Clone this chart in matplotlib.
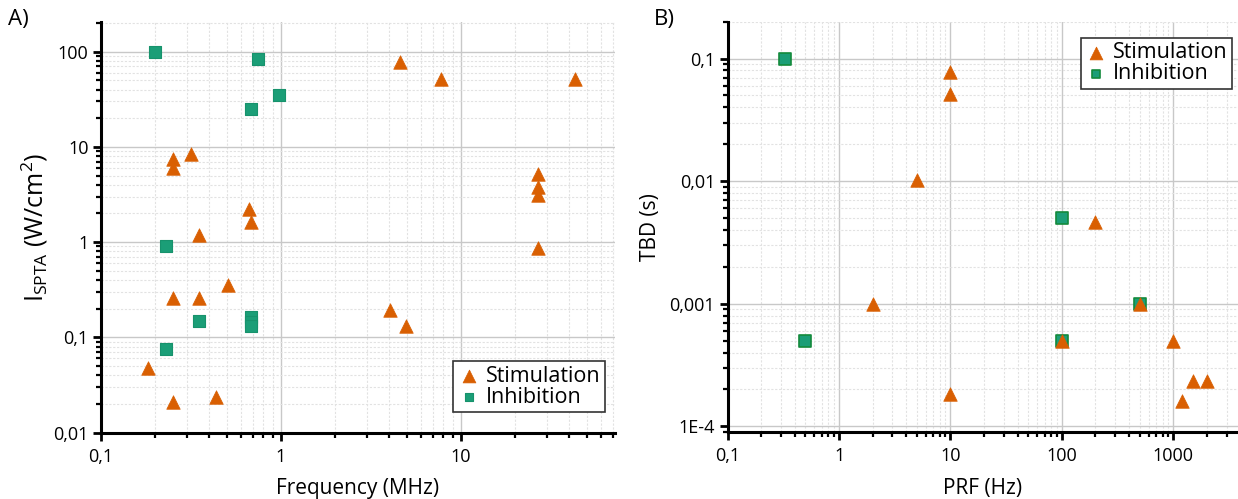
import matplotlib
matplotlib.use("Agg")
import matplotlib.pyplot as plt
from matplotlib.ticker import FixedLocator, FixedFormatter, LogLocator, NullFormatter

plt.rcParams.update({"font.family": ["Open Sans", "DejaVu Sans"], "font.size": 11})

STIM = "#d95f02"
INHIB = "#1b9e77"

# ---- panel A: frequency vs I_SPTA ----
a_stim_freq = [4.6, 7.8, 43, 0.25, 0.25, 0.318, 0.665, 0.686, 0.35, 0.508, 0.25, 0.35,
               4.03, 4.99, 0.182, 0.25, 0.438, 27, 27, 27, 27]
a_stim_ispta = [78, 52, 52, 7.5, 6.0, 8.4, 2.2, 1.63, 1.2, 0.35, 0.257, 0.257,
                0.194, 0.132, 0.048, 0.021, 0.0234, 5.2, 3.77, 3.16, 0.87]
a_inhib_freq = [0.2, 0.75, 0.98, 0.686, 0.231, 0.35, 0.686, 0.686, 0.686, 0.231]
a_inhib_ispta = [100, 83, 35, 25, 0.91, 0.148, 0.163, 0.145, 0.13, 0.076]

# ---- panel B: PRF vs TBD ----
b_stim_prf = [10, 10, 5, 2, 10, 100, 200, 500, 1000, 1200, 1500, 2000]
b_stim_tbd = [0.077, 0.051, 0.0103, 0.001, 1.83e-4, 5e-4, 0.0046, 0.001, 5e-4, 1.62e-4, 2.35e-4, 2.35e-4]
b_inhib_prf = [0.33, 0.5, 100, 100, 500]
b_inhib_tbd = [0.1, 5e-4, 0.005, 5e-4, 0.001]

a_xticks = [0.1, 1, 10]
a_xlabels = ["0,1", "1", "10"]
a_yticks = [0.01, 0.1, 1, 10, 100]
a_ylabels = ["0,01", "0,1", "1", "10", "100"]
b_xticks = [0.1, 1, 10, 100, 1000]
b_xlabels = ["0,1", "1", "10", "100", "1000"]
b_yticks = [1e-4, 0.001, 0.01, 0.1]
b_ylabels = ["1E-4", "0,001", "0,01", "0,1"]

W, H = 1238, 499
fig = plt.figure(figsize=(W / 100, H / 100), dpi=100)


def box(x0, x1, ytop, ybot):
    return [x0 / W, 1 - ybot / H, (x1 - x0) / W, (ybot - ytop) / H]


axA = fig.add_axes(box(101, 615, 21.6, 432.5))
axB = fig.add_axes(box(727.6, 1238, 21.6, 432))


def style(ax, xticks, xlabels, yticks, ylabels):
    ax.set_xscale("log")
    ax.set_yscale("log")
    for s in ("top", "right"):
        ax.spines[s].set_visible(False)
    for s in ("left", "bottom"):
        ax.spines[s].set_linewidth(2.2)
        ax.spines[s].set_color("black")
    ax.xaxis.set_major_locator(FixedLocator(xticks))
    ax.xaxis.set_major_formatter(FixedFormatter(xlabels))
    ax.yaxis.set_major_locator(FixedLocator(yticks))
    ax.yaxis.set_major_formatter(FixedFormatter(ylabels))
    for axis in (ax.xaxis, ax.yaxis):
        axis.set_minor_locator(LogLocator(base=10, subs=range(2, 10), numticks=30))
        axis.set_minor_formatter(NullFormatter())
    ax.tick_params(which="major", direction="out", length=6, width=2, labelsize=13,
                   colors="black", pad=3)
    ax.tick_params(axis="x", which="major", pad=5)
    ax.tick_params(which="minor", direction="out", length=3.5, width=1.6)
    ax.grid(which="major", color="#c8c8c8", lw=1.0, ls="-")
    ax.grid(which="minor", color="#e2e2e2", lw=0.8, ls=(0, (2, 1.5)))
    ax.set_axisbelow(True)


# panel A
style(axA, a_xticks, a_xlabels, a_yticks, a_ylabels)
axA.scatter(a_inhib_freq, a_inhib_ispta, marker="s", s=70, color=INHIB,
            edgecolor="#17926c", lw=0.8, zorder=3, label="Inhibition")
axA.scatter(a_stim_freq, a_stim_ispta, marker="^", s=95, color=STIM,
            edgecolor=STIM, lw=0.5, zorder=4, label="Stimulation")
axA.set_xlim(0.1, 72)
axA.set_ylim(0.01, 207)
axA.set_xlabel("Frequency (MHz)", fontsize=15, labelpad=9)
axA.set_ylabel(r"I$_\mathregular{SPTA}$ (W/cm$^\mathregular{2}$)", fontsize=18, labelpad=2)

# panel B
style(axB, b_xticks, b_xlabels, b_yticks, b_ylabels)
axB.scatter(b_inhib_prf, b_inhib_tbd, marker="s", s=70, color=INHIB,
            edgecolor="#138a3c", lw=1.2, zorder=3, label="Inhibition")
axB.scatter(b_stim_prf, b_stim_tbd, marker="^", s=95, color=STIM,
            edgecolor=STIM, lw=0.5, zorder=4, label="Stimulation")
axB.set_xlim(0.1, 3800)
axB.set_ylim(9e-5, 0.2)
axB.set_xlabel("PRF (Hz)", fontsize=15, labelpad=9)
axB.set_ylabel("TBD (s)", fontsize=15, labelpad=6)

for ax, loc, anchor in ((axA, "lower right", (0.98, 0.05)), (axB, "upper right", (0.988, 0.96))):
    h, l = ax.get_legend_handles_labels()
    leg = ax.legend(h[::-1], l[::-1], loc=loc, bbox_to_anchor=anchor, fontsize=15.5,
                    frameon=True, fancybox=False, framealpha=1, edgecolor="#333333",
                    handletextpad=0.3, borderpad=0.2, labelspacing=0.0,
                    handlelength=1.0, borderaxespad=0)
    leg.get_frame().set_linewidth(1.2)
    leg.legend_handles[0].set_sizes([85])
    leg.legend_handles[1].set_sizes([35])

fig.text(8 / W, 1 - 19 / H, "A)", fontsize=16, va="center", ha="left")
fig.text(654 / W, 1 - 19 / H, "B)", fontsize=16, va="center", ha="left")

fig.savefig("out.png", dpi=100)
